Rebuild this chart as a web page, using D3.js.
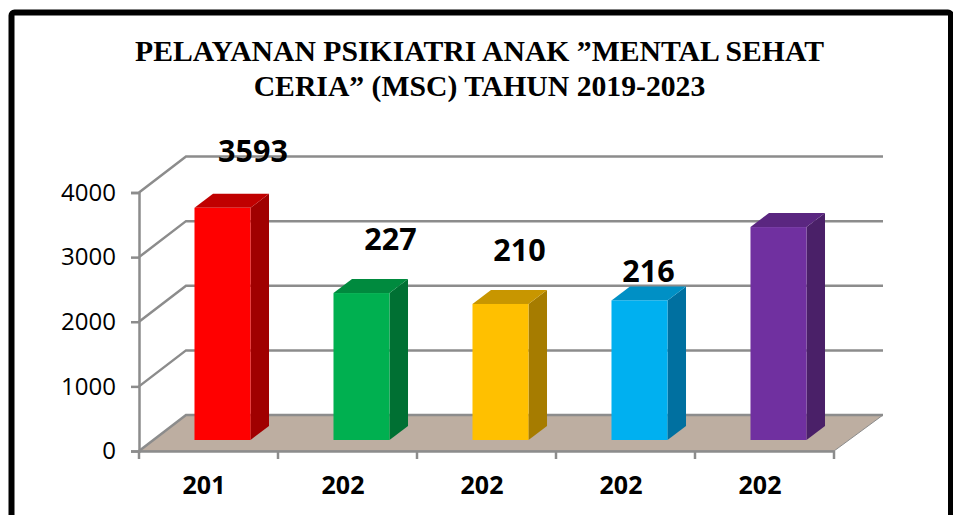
<!DOCTYPE html>
<html>
<head>
<meta charset="utf-8">
<script src="https://d3js.org/d3.v7.min.js"></script>
<style>
  html, body { margin: 0; padding: 0; background: #fff; overflow: hidden; }
  svg { display: block; }
  .title { font-family: "Liberation Serif", serif; font-weight: bold; font-size: 29.7px; fill: #000; text-anchor: middle; }
  .y-tick text { font-family: "Open Sans", sans-serif; font-size: 24px; fill: #000; }
  .x-tick text { font-family: "Open Sans", sans-serif; font-weight: bold; font-size: 25px; fill: #000; }
  .value { font-family: "Open Sans", sans-serif; font-weight: bold; font-size: 30.5px; fill: #000; text-anchor: middle; }
</style>
</head>
<body>
<div id="chart"></div>
<script>
// Data
const titleLines = ['PELAYANAN PSIKIATRI ANAK ”MENTAL SEHAT', 'CERIA” (MSC) TAHUN 2019-2023'];
const yearLabels = ['201', '202', '202', '202', '202']; // cut short in the original
const barValues = [3593, 2274, 2105, 2160, 3295];
const valueLabels = ['3593', '227', '210', '216', ''];
const yTicks = [0, 1000, 2000, 3000, 4000];

const frontColours = ['#ff0000', '#00b050', '#ffc000', '#00b0f0', '#7030a0'];
const topColours = ['#c00000', '#008a3e', '#c89600', '#0090c5', '#5a2680'];
const sideColours = ['#a00000', '#007033', '#a67c00', '#0070a0', '#4a2068'];

// Hand placed labels, same as the source slide
const labelNudge = [[30.5, -32], [29, -29], [19, -29], [9, -4]];

const width = 953, height = 515;
const wallDx = 47, wallDy = -36; // depth of the whole 3d box
const barInDx = 14, barInDy = -11; // where bars start inside the box
const barDx = 18.5, barDy = -14; // depth of a bar

const svg = d3.select('#chart')
    .append('svg')
    .attr('width', width)
    .attr('height', height);

// Frame around the slide
svg.append('rect')
    .attr('x', 11.5)
    .attr('y', 12.5)
    .attr('width', 939.5)
    .attr('height', 540)
    .attr('rx', 3)
    .attr('fill', '#fff')
    .attr('stroke', '#000')
    .attr('stroke-width', 6);

// Title
svg.selectAll('.title')
    .data(titleLines)
    .enter()
    .append('text')
    .attr('class', 'title')
    .attr('x', 479.5)
    .attr('y', (d, i) => 61 + i * 35)
    .text(d => d);

const x = d3.scaleBand()
    .domain(d3.range(barValues.length))
    .range([139, 834])
    .paddingInner(0.597)
    .paddingOuter(0.2985);

const y = d3.scaleLinear()
    .domain([0, 4000])
    .range([451, 192.5]);

const left = x.range()[0], right = x.range()[1];

// Floor
svg.append('polygon')
    .attr('points', [
        [left, y(0)],
        [left + wallDx, y(0) + wallDy],
        [right + 49, y(0) + wallDy],
        [right, y(0)]
    ].join(' '))
    .attr('fill', '#bdaea1')
    .attr('stroke', '#8c8c8c')
    .attr('stroke-width', 1);

// Gridlines run up the side wall and along the back wall
svg.selectAll('.grid')
    .data(yTicks)
    .enter()
    .append('polyline')
    .attr('points', d => [
        [left, y(d)],
        [left + wallDx, y(d) + wallDy],
        [right + 49, y(d) + wallDy]
    ].join(' '))
    .attr('fill', 'none')
    .attr('stroke', '#8c8c8c')
    .attr('stroke-width', 2.5);

// Y-axis
svg.append('g')
    .attr('class', 'y-tick')
    .attr('transform', `translate(${left}, 0)`)
    .call(d3.axisLeft(y).tickValues(yTicks).tickFormat(d3.format('d')).tickSize(8).tickPadding(15))
    .call(g => g.select('.domain').attr('stroke', '#8c8c8c').attr('stroke-width', 2.5))
    .call(g => g.selectAll('line').attr('stroke', '#8c8c8c').attr('stroke-width', 2.5));

// X-axis, ticks sit on the band edges so the lines are added by hand below
svg.append('g')
    .attr('class', 'x-tick')
    .attr('transform', `translate(0, ${y(0)})`)
    .call(d3.axisBottom(x).tickFormat(i => yearLabels[i]).tickSize(0).tickPadding(25))
    .call(g => g.select('.domain').attr('stroke', '#8c8c8c').attr('stroke-width', 2.5))
    .call(g => g.selectAll('text').attr('dx', -4.5));

svg.selectAll('.x-mark')
    .data(d3.range(barValues.length + 1))
    .enter()
    .append('line')
    .attr('x1', d => left + d * x.step())
    .attr('x2', d => left + d * x.step())
    .attr('y1', y(0))
    .attr('y2', y(0) + 8)
    .attr('stroke', '#8c8c8c')
    .attr('stroke-width', 2.5);

// Bars, each one a front, a top and a side face
const bars = svg.selectAll('.bar')
    .data(barValues)
    .enter()
    .append('g')
    .attr('class', 'bar');

const barLeft = (d, i) => x(i) + barInDx;
const barRight = (d, i) => x(i) + barInDx + x.bandwidth();
const barTop = d => y(d) + barInDy;
const barBottom = () => y(0) + barInDy;

bars.append('polygon') // side
    .attr('points', (d, i) => [
        [barRight(d, i), barTop(d)],
        [barRight(d, i) + barDx, barTop(d) + barDy],
        [barRight(d, i) + barDx, barBottom() + barDy],
        [barRight(d, i), barBottom()]
    ].join(' '))
    .attr('fill', (d, i) => sideColours[i]);

bars.append('polygon') // top
    .attr('points', (d, i) => [
        [barLeft(d, i), barTop(d)],
        [barLeft(d, i) + barDx, barTop(d) + barDy],
        [barRight(d, i) + barDx, barTop(d) + barDy],
        [barRight(d, i), barTop(d)]
    ].join(' '))
    .attr('fill', (d, i) => topColours[i]);

bars.append('rect') // front
    .attr('x', barLeft)
    .attr('y', barTop)
    .attr('width', x.bandwidth())
    .attr('height', d => barBottom() - barTop(d))
    .attr('fill', (d, i) => frontColours[i]);

// Value labels
svg.selectAll('.value')
    .data(valueLabels.filter(d => d !== ''))
    .enter()
    .append('text')
    .attr('class', 'value')
    .attr('x', (d, i) => barLeft(barValues[i], i) + x.bandwidth() / 2 + labelNudge[i][0])
    .attr('y', (d, i) => barTop(barValues[i]) + barDy + labelNudge[i][1])
    .text(d => d);
</script>
</body>
</html>
